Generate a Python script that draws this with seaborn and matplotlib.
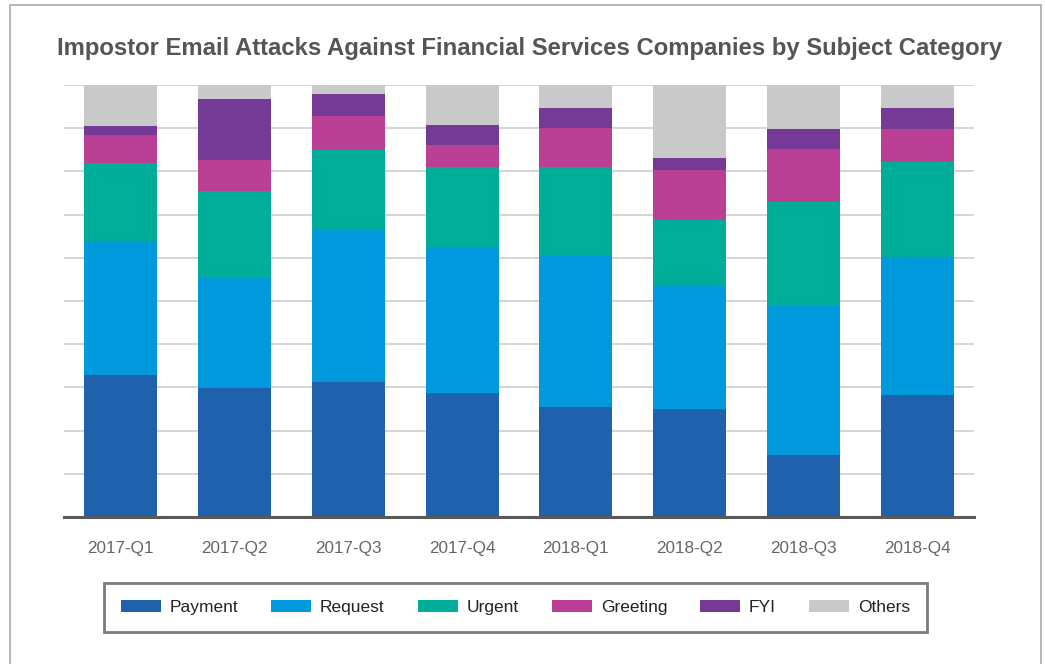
import matplotlib
matplotlib.use("Agg")
import matplotlib.pyplot as plt
from matplotlib.patches import Patch, Rectangle
import numpy as np
import pandas as pd
import seaborn as sns

quarters = ["2017-Q1", "2017-Q2", "2017-Q3", "2017-Q4",
            "2018-Q1", "2018-Q2", "2018-Q3", "2018-Q4"]
categories = ["Payment", "Request", "Urgent", "Greeting", "FYI", "Others"]

# Share of attacks (%) per subject category
payment  = [32.8, 29.9, 31.3, 28.7, 25.4, 24.9, 14.3, 28.3]
request  = [31.1, 25.5, 35.3, 33.8, 35.1, 28.8, 34.6, 31.9]
urgent   = [18.0, 20.0, 18.4, 18.5, 20.5, 15.1, 24.1, 22.0]
greeting = [6.5, 7.2, 7.9, 5.1, 9.1, 11.6, 12.2, 7.6]
fyi      = [2.1, 14.2, 5.1, 4.7, 4.6, 2.8, 4.5, 4.9]
others   = [9.5, 3.2, 2.0, 9.2, 5.3, 16.8, 10.3, 5.3]

colors = ["#1F61AD", "#0099DB", "#00AD98", "#B94094", "#743A95", "#C8C9C8"]

df = pd.DataFrame({"Payment": payment, "Request": request, "Urgent": urgent,
                   "Greeting": greeting, "FYI": fyi, "Others": others},
                  index=quarters)
cum = df[categories].cumsum(axis=1)

sns.set_theme(style="white")
plt.rcParams["font.family"] = ["Liberation Sans", "DejaVu Sans"]

fig = plt.figure(figsize=(10.45, 6.64), dpi=100)
ax = fig.add_axes([64 / 1045, 1 - 517 / 664, 910 / 1045, 432 / 664])

# Stack by overlaying cumulative totals, tallest first
for cat, col in reversed(list(zip(categories, colors))):
    sns.barplot(x=quarters, y=cum[cat].values, color=col, width=0.64,
                saturation=1, linewidth=0, ax=ax, zorder=3)

ax.set_xlim(-0.5, 7.5)
ax.set_ylim(0, 100)
ax.set_yticks(np.arange(0, 101, 10))
ax.set_yticklabels([])
ax.yaxis.grid(True, color="#d4d4d4", linewidth=1.4, zorder=0)
ax.set_axisbelow(True)
ax.tick_params(axis="both", length=0)
ax.tick_params(axis="x", pad=17, labelsize=12.3, labelcolor="#666666")
ax.set_xlabel("")
ax.set_ylabel("")
for side in ["left", "right", "top"]:
    ax.spines[side].set_visible(False)
ax.spines["bottom"].set_color("#595959")
ax.spines["bottom"].set_linewidth(2.2)
ax.spines["bottom"].set_zorder(5)

fig.text(530 / 1045, 1 - 48 / 664,
         "Impostor Email Attacks Against Financial Services Companies by Subject Category",
         ha="center", va="center", fontsize=17.2, fontweight="bold", color="#555555")

handles = [Patch(facecolor=c, edgecolor="none", label=n) for n, c in zip(categories, colors)]
leg = fig.legend(handles=handles, loc="center", ncol=6,
                 bbox_to_anchor=(515.5 / 1045, 1 - 607.5 / 664),
                 frameon=True, fancybox=False, fontsize=12.5,
                 handlelength=2.3, handleheight=0.7, handletextpad=0.5,
                 columnspacing=1.92, borderpad=0.95)
leg.get_frame().set_edgecolor("#5a5a5a")
leg.get_frame().set_linewidth(2)
for t in leg.get_texts():
    t.set_color("#222222")

# Outer panel border
fig.patches.append(Rectangle((10 / 1045, -0.05), 1031 / 1045, 1.05 - 5 / 664,
                             transform=fig.transFigure, fill=False,
                             edgecolor="#aaaaaa", linewidth=1.2))

fig.savefig("out.png", dpi=100)
